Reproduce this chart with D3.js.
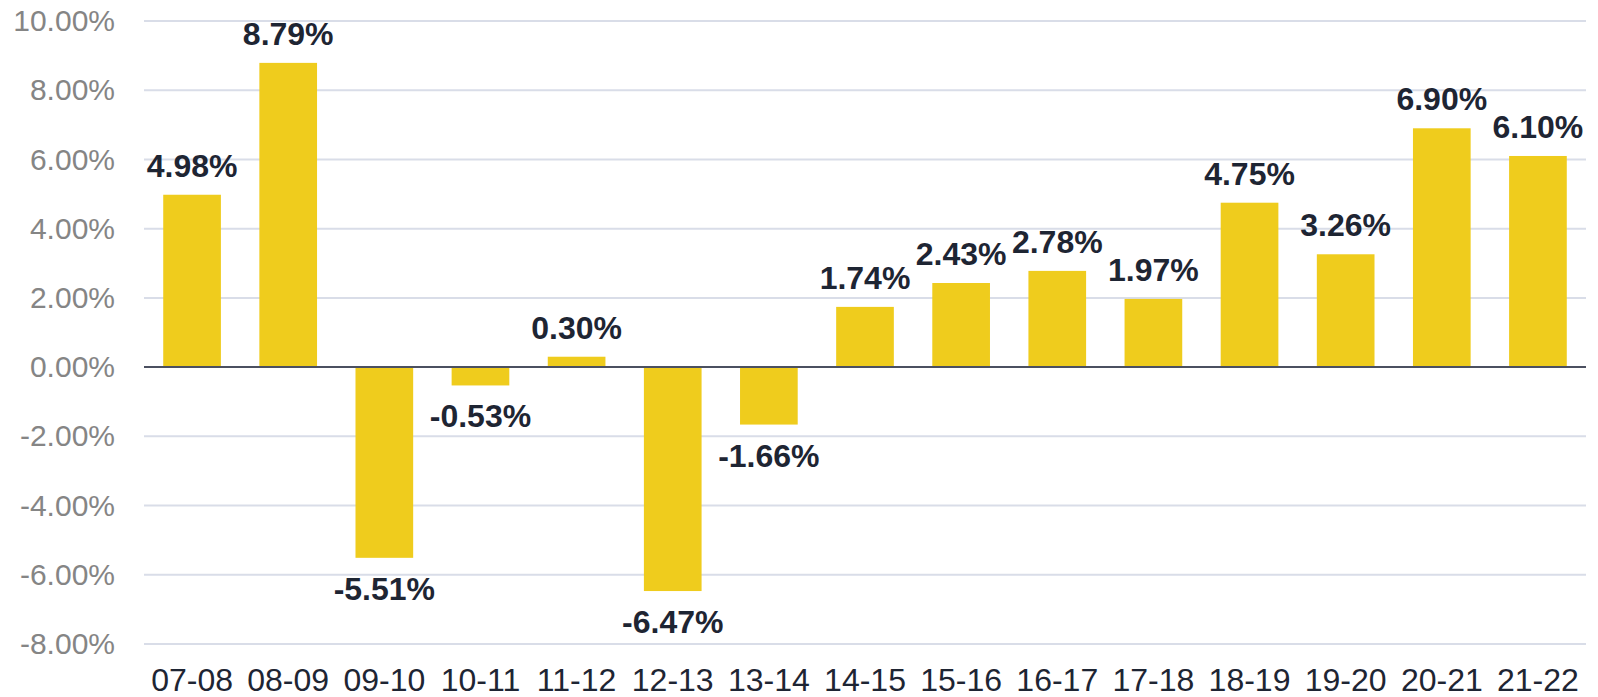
<!DOCTYPE html>
<html>
<head>
<meta charset="utf-8">
<script src="https://cdn.jsdelivr.net/npm/d3@7"></script>
<style>
  body { margin: 0; background: #fff; }
  svg text { font-family: "Liberation Sans", Arial, sans-serif; }
</style>
</head>
<body>
<script>
// Year-on-year change, fiscal years

var years = ["07-08", "08-09", "09-10", "10-11", "11-12", "12-13", "13-14", "14-15",
             "15-16", "16-17", "17-18", "18-19", "19-20", "20-21", "21-22"];
var changes = [4.98, 8.79, -5.51, -0.53, 0.30, -6.47, -1.66, 1.74,
               2.43, 2.78, 1.97, 4.75, 3.26, 6.90, 6.10];
var yTicks = [-8, -6, -4, -2, 0, 2, 4, 6, 8, 10];

var width = 1598;
var height = 697;
var margin = { top: 21, right: 12, bottom: 53, left: 144 };

var svg = d3.select("body").append("svg")
  .attr("width", width)
  .attr("height", height)

var x = d3.scaleBand()
  .domain(years)
  .range([margin.left, width - margin.right])
  .paddingInner(0.4)
  .paddingOuter(0.2);

var y = d3.scaleLinear()
  .domain([-8, 10])
  .range([height - margin.bottom, margin.top]);

// grid lines
svg.append("g")
  .selectAll("line")
  .data(yTicks.filter(function(d) { return d != 0; }))
  .enter().append("line")
    .attr("x1", margin.left)
    .attr("x2", width - margin.right)
    .attr("y1", function(d) { return y(d); })
    .attr("y2", function(d) { return y(d); })
    .attr("stroke", "#d9dde8")
    .attr("stroke-width", 2);

// y axis labels
var yAxis = d3.axisLeft(y)
  .tickValues(yTicks)
  .tickSize(0)
  .tickPadding(29)
  .tickFormat(function(d) { return d.toFixed(2) + "%"; });

svg.append("g")
  .attr("transform", "translate(" + margin.left + ",0)")
  .call(yAxis)
  .call(function(g) { g.select(".domain").remove(); })
  .selectAll("text")
    .attr("fill", "#858585")
    .attr("font-size", 30)
    .attr("font-family", "Liberation Sans, Arial, sans-serif");

// bars
svg.append("g")
  .selectAll("rect")
  .data(changes)
  .enter().append("rect")
    .attr("x", function(d, i) { return x(years[i]); })
    .attr("width", x.bandwidth())
    .attr("y", function(d) { return y(Math.max(0, d)); })
    .attr("height", function(d) { return Math.abs(y(d) - y(0)); })
    .attr("fill", "#efcc1d");

// zero line
svg.append("line")
  .attr("x1", margin.left)
  .attr("x2", width - margin.right)
  .attr("y1", y(0))
  .attr("y2", y(0))
  .attr("stroke", "#4b5060")
  .attr("stroke-width", 2);

// value labels
svg.append("g")
  .selectAll("text")
  .data(changes)
  .enter().append("text")
    .attr("x", function(d, i) { return x(years[i]) + x.bandwidth() / 2; })
    .attr("y", function(d) { return d >= 0 ? y(d) - 18 : y(d) + 42; })
    .attr("text-anchor", "middle")
    .attr("font-size", 32)
    .attr("font-weight", "bold")
    .attr("fill", "#1e2533")
    .text(function(d) { return d.toFixed(2) + "%"; });

// x axis labels
var xAxis = d3.axisBottom(x)
  .tickSize(0)
  .tickPadding(0);

svg.append("g")
  .attr("transform", "translate(0," + (height - margin.bottom) + ")")
  .call(xAxis)
  .call(function(g) { g.select(".domain").remove(); })
  .selectAll("text")
    .attr("dy", null)
    .attr("y", 47)
    .attr("fill", "#1e2533")
    .attr("font-size", 32)
    .attr("font-family", "Liberation Sans, Arial, sans-serif");
</script>
</body>
</html>
